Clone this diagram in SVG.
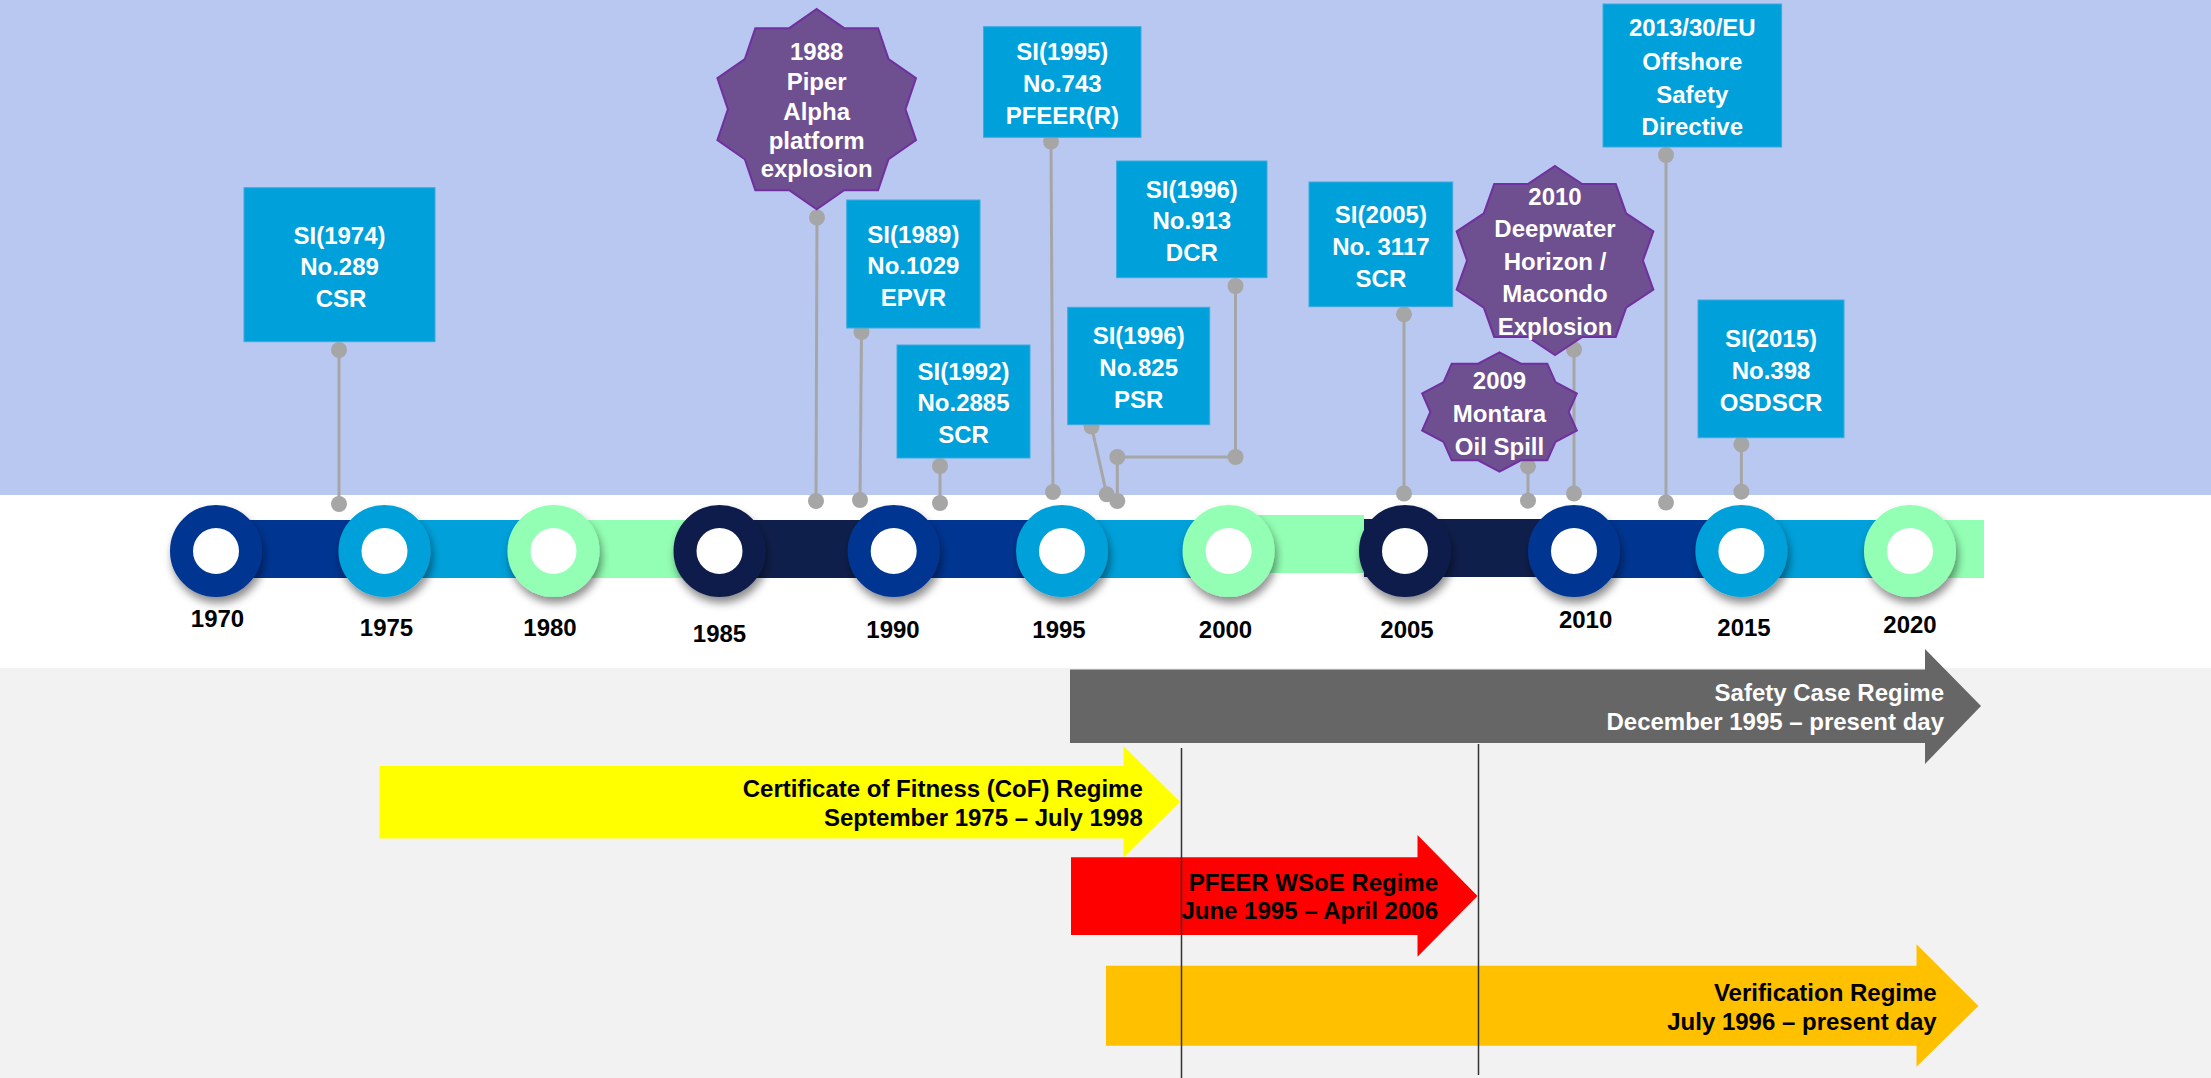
<svg xmlns="http://www.w3.org/2000/svg" width="2211" height="1078" viewBox="0 0 2211 1078">
<defs>
<filter id="sh" x="-30%" y="-30%" width="160%" height="170%">
<feDropShadow dx="2" dy="6" stdDeviation="4" flood-color="#000" flood-opacity="0.45"/>
</filter>
<style>
text{font-family:"Liberation Sans",Arial,sans-serif;font-weight:bold;font-size:24px}
.w{fill:#fff;text-anchor:middle}
.yr{fill:#000;text-anchor:middle}
.rt{text-anchor:end}
.box{fill:#00A0DA;stroke:#3DAAE0;stroke-width:1}
.star{fill:#6E4F8F;stroke:#7030A0;stroke-width:2}
.ring{fill:#fff;stroke-width:23;filter:url(#sh)}
.c1{stroke:#003591}.c2{stroke:#00A0DA}.c3{stroke:#92FFB4}.c4{stroke:#0F1F4B}
.ln{stroke:#A6A6A6;stroke-width:3;fill:none}
.dot{fill:#A6A6A6}
.vl{stroke:#333;stroke-width:1.5}
</style>
</defs>
<rect x="0" y="0" width="2211" height="495" fill="#B9C8F0"/>
<rect x="0" y="495" width="2211" height="173" fill="#FFFFFF"/>
<rect x="0" y="668" width="2211" height="410" fill="#F2F2F2"/>

<g id="timeline-bar">
<rect x="216" y="520" width="168.5" height="58" fill="#003591"/>
<rect x="384.5" y="520" width="169" height="58" fill="#00A0DA"/>
<rect x="553.5" y="520" width="166" height="58" fill="#92FFB4"/>
<rect x="719.5" y="520" width="174.2" height="58" fill="#0F1F4B"/>
<rect x="893.7" y="520" width="168.3" height="58" fill="#003591"/>
<rect x="1062" y="520" width="166.6" height="58" fill="#00A0DA"/>
<rect x="1228.6" y="515" width="135.4" height="58" fill="#92FFB4"/>
<rect x="1364" y="519" width="210" height="58" fill="#0F1F4B"/>
<rect x="1574" y="520" width="167.4" height="58" fill="#003591"/>
<rect x="1741.4" y="520" width="168.6" height="58" fill="#00A0DA"/>
<rect x="1910" y="520" width="74" height="58" fill="#92FFB4"/>
</g>

<g id="y1970"><circle class="ring c1" cx="216" cy="551" r="34.5"/><text class="yr" x="217.5" y="627">1970</text></g>
<g id="y1975"><circle class="ring c2" cx="384.5" cy="551" r="34.5"/><text class="yr" x="386.5" y="635.5">1975</text></g>
<g id="y1980"><circle class="ring c3" cx="553.5" cy="551" r="34.5"/><text class="yr" x="550" y="636">1980</text></g>
<g id="y1985"><circle class="ring c4" cx="719.5" cy="551" r="34.5"/><text class="yr" x="719.5" y="642">1985</text></g>
<g id="y1990"><circle class="ring c1" cx="893.7" cy="551" r="34.5"/><text class="yr" x="893" y="638">1990</text></g>
<g id="y1995"><circle class="ring c2" cx="1062" cy="551" r="34.5"/><text class="yr" x="1059" y="638">1995</text></g>
<g id="y2000"><circle class="ring c3" cx="1228.6" cy="551" r="34.5"/><text class="yr" x="1225.5" y="638">2000</text></g>
<g id="y2005"><circle class="ring c4" cx="1405" cy="551" r="34.5"/><text class="yr" x="1407" y="638">2005</text></g>
<g id="y2010"><circle class="ring c1" cx="1574" cy="551" r="34.5"/><text class="yr" x="1585.6" y="627.5">2010</text></g>
<g id="y2015"><circle class="ring c2" cx="1741.4" cy="551" r="34.5"/><text class="yr" x="1744" y="636">2015</text></g>
<g id="y2020"><circle class="ring c3" cx="1910" cy="551" r="34.5"/><text class="yr" x="1910" y="632.5">2020</text></g>

<g id="connectors">
<line class="ln" x1="339" y1="350" x2="339" y2="504"/>
<circle class="dot" cx="339" cy="350" r="8"/><circle class="dot" cx="339" cy="504" r="8"/>
<line class="ln" x1="817" y1="217.5" x2="816" y2="501"/>
<circle class="dot" cx="817" cy="217.5" r="8"/><circle class="dot" cx="816" cy="501" r="8"/>
<line class="ln" x1="861.5" y1="332" x2="860" y2="500"/>
<circle class="dot" cx="861.5" cy="332" r="8"/><circle class="dot" cx="860" cy="500" r="8"/>
<line class="ln" x1="940" y1="466" x2="940" y2="503"/>
<circle class="dot" cx="940" cy="466" r="8"/><circle class="dot" cx="940" cy="503" r="8"/>
<line class="ln" x1="1051" y1="141.5" x2="1053" y2="492"/>
<circle class="dot" cx="1051" cy="141.5" r="8"/><circle class="dot" cx="1053" cy="492" r="8"/>
<polyline class="ln" points="1235.5,286 1235.5,457 1117.3,457 1117.3,501"/>
<circle class="dot" cx="1235.5" cy="286" r="8"/><circle class="dot" cx="1235.5" cy="457" r="8"/>
<circle class="dot" cx="1117.3" cy="457" r="8"/><circle class="dot" cx="1117.3" cy="501" r="8"/>
<line class="ln" x1="1091.5" y1="426.5" x2="1106.7" y2="494.3"/>
<circle class="dot" cx="1091.5" cy="426.5" r="8"/><circle class="dot" cx="1106.7" cy="494.3" r="8"/>
<line class="ln" x1="1404" y1="314.3" x2="1404" y2="493.5"/>
<circle class="dot" cx="1404" cy="314.3" r="8"/><circle class="dot" cx="1404" cy="493.5" r="8"/>
<line class="ln" x1="1574" y1="349.5" x2="1574" y2="493.5"/>
<circle class="dot" cx="1574" cy="349.5" r="8"/><circle class="dot" cx="1574" cy="493.5" r="8"/>
<line class="ln" x1="1528" y1="466.3" x2="1528" y2="500.7"/>
<circle class="dot" cx="1528" cy="466.3" r="8"/><circle class="dot" cx="1528" cy="500.7" r="8"/>
<line class="ln" x1="1666" y1="155" x2="1666" y2="502.5"/>
<circle class="dot" cx="1666" cy="155" r="8"/><circle class="dot" cx="1666" cy="502.5" r="8"/>
<line class="ln" x1="1741.4" y1="444.3" x2="1741.4" y2="491.7"/>
<circle class="dot" cx="1741.4" cy="444.3" r="8"/><circle class="dot" cx="1741.4" cy="491.7" r="8"/>
</g>

<g id="si1974"><rect class="box" x="244" y="187.7" width="191" height="154"/>
<text class="w" x="339.5" y="243.5">SI(1974)</text><text class="w" x="339.5" y="275">No.289</text><text class="w" x="341" y="306.5">CSR</text></g>

<g id="piper"><polygon class="star" points="816.7,9 844.14,28.14 878.07,28.14 888.55,59.1 915.99,78.24 905.51,109.2 915.99,140.16 888.55,159.3 878.07,190.26 844.14,190.26 816.7,209.4 789.26,190.26 755.33,190.26 744.85,159.3 717.41,140.16 727.89,109.2 717.41,78.24 744.85,59.1 755.33,28.14 789.26,28.14"/>
<text class="w" x="816.7" y="60">1988</text><text class="w" x="816.7" y="90">Piper</text><text class="w" x="816.7" y="119.5">Alpha</text><text class="w" x="816.7" y="148.5">platform</text><text class="w" x="816.7" y="177">explosion</text></g>

<g id="si1989"><rect class="box" x="846.7" y="200" width="133.3" height="128"/>
<text class="w" x="913.4" y="242.6">SI(1989)</text><text class="w" x="913.4" y="274.3">No.1029</text><text class="w" x="913.4" y="306.3">EPVR</text></g>

<g id="si1992"><rect class="box" x="897" y="345" width="133" height="113"/>
<text class="w" x="963.5" y="379.6">SI(1992)</text><text class="w" x="963.5" y="410.6">No.2885</text><text class="w" x="963.5" y="442.6">SCR</text></g>

<g id="si1995"><rect class="box" x="983.5" y="26.7" width="157.5" height="110.6"/>
<text class="w" x="1062.3" y="60.3">SI(1995)</text><text class="w" x="1062.3" y="92">No.743</text><text class="w" x="1062.3" y="124.3">PFEER(R)</text></g>

<g id="si1996dcr"><rect class="box" x="1116.6" y="161" width="150.4" height="116.7"/>
<text class="w" x="1191.8" y="197.6">SI(1996)</text><text class="w" x="1191.8" y="229.3">No.913</text><text class="w" x="1191.8" y="261">DCR</text></g>

<g id="si1996psr"><rect class="box" x="1067.7" y="307.3" width="142" height="117.4"/>
<text class="w" x="1138.7" y="343.5">SI(1996)</text><text class="w" x="1138.7" y="375.5">No.825</text><text class="w" x="1138.7" y="407.5">PSR</text></g>

<g id="si2005"><rect class="box" x="1309" y="182" width="143.7" height="124.7"/>
<text class="w" x="1380.9" y="222.6">SI(2005)</text><text class="w" x="1380.9" y="255.3">No. 3117</text><text class="w" x="1380.9" y="287">SCR</text></g>

<g id="deepwater"><polygon class="star" points="1555,166 1582.18,184.05 1615.78,184.05 1626.16,213.25 1653.34,231.3 1642.96,260.5 1653.34,289.7 1626.16,307.75 1615.78,336.95 1582.18,336.95 1555,355 1527.82,336.95 1494.22,336.95 1483.84,307.75 1456.66,289.7 1467.04,260.5 1456.66,231.3 1483.84,213.25 1494.22,184.05 1527.82,184.05"/>
<text class="w" x="1555" y="205">2010</text><text class="w" x="1555" y="237.3">Deepwater</text><text class="w" x="1555" y="270">Horizon /</text><text class="w" x="1555" y="302.3">Macondo</text><text class="w" x="1555" y="335">Explosion</text></g>

<g id="montara"><polygon class="star" points="1499.5,352.3 1520.87,363.7 1547.29,363.7 1555.45,382.15 1576.82,393.55 1568.66,412 1576.82,430.45 1555.45,441.85 1547.29,460.3 1520.87,460.3 1499.5,471.7 1478.13,460.3 1451.71,460.3 1443.55,441.85 1422.18,430.45 1430.34,412 1422.18,393.55 1443.55,382.15 1451.71,363.7 1478.13,363.7"/>
<text class="w" x="1499.5" y="389">2009</text><text class="w" x="1499.5" y="421.7">Montara</text><text class="w" x="1499.5" y="455">Oil Spill</text></g>

<g id="eu2013"><rect class="box" x="1603" y="4" width="178.6" height="143"/>
<text class="w" x="1692.3" y="36.3">2013/30/EU</text><text class="w" x="1692.3" y="69.6">Offshore</text><text class="w" x="1692.3" y="102.9">Safety</text><text class="w" x="1692.3" y="134.6">Directive</text></g>

<g id="si2015"><rect class="box" x="1698" y="300" width="146" height="137.7"/>
<text class="w" x="1771" y="347">SI(2015)</text><text class="w" x="1771" y="379.3">No.398</text><text class="w" x="1771" y="411.3">OSDSCR</text></g>

<g id="safety-case">
<polygon fill="#666666" points="1070,669.5 1925,669.5 1925,649 1981,706 1925,764 1925,743 1070,743"/>
<text class="rt" fill="#fff" x="1944" y="700.5">Safety Case Regime</text>
<text class="rt" fill="#fff" x="1944" y="730">December 1995 – present day</text>
</g>

<g id="cof">
<polygon fill="#FFFF00" points="379.5,766 1123.5,766 1123.5,746 1180,801.7 1123.5,857.6 1123.5,838.4 379.5,838.4"/>
<text class="rt" fill="#000" x="1142.8" y="796.7">Certificate of Fitness (CoF) Regime</text>
<text class="rt" fill="#000" x="1142.8" y="825.7">September 1975 – July 1998</text>
</g>

<g id="pfeer">
<polygon fill="#FF0000" points="1071,857.3 1417.5,857.3 1417.5,835 1477.5,896 1417.5,956.7 1417.5,935 1071,935"/>
<text class="rt" fill="#000" x="1438" y="890.7">PFEER WSoE Regime</text>
<text class="rt" fill="#000" x="1438" y="919.3">June 1995 – April 2006</text>
</g>

<g id="verification">
<polygon fill="#FFC000" points="1106,965.7 1916.5,965.7 1916.5,944.3 1978.4,1006 1916.5,1066.7 1916.5,1045.7 1106,1045.7"/>
<text class="rt" fill="#000" x="1936.7" y="1001">Verification Regime</text>
<text class="rt" fill="#000" x="1936.7" y="1030">July 1996 – present day</text>
</g>

<g id="markers">
<line class="vl" x1="1181.5" y1="748" x2="1181.5" y2="1078"/>
<line class="vl" x1="1478.5" y1="744" x2="1478.5" y2="1075"/>
</g>
</svg>
